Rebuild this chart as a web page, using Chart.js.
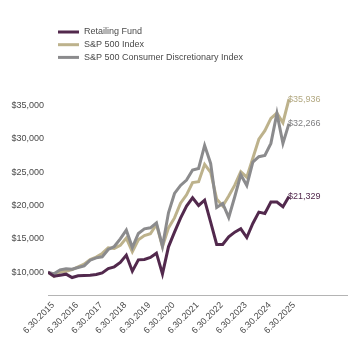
<!DOCTYPE html>
<html>
<head>
<meta charset="utf-8">
<script src="https://cdn.jsdelivr.net/npm/chart.js@4.4.0/dist/chart.umd.min.js"></script>
<style>
    html, body { margin: 0; padding: 0; background: #fff; }
</style>
</head>
<body>
<canvas id="growth" width="348" height="340"></canvas>
<script>
const growthCanvas = document.getElementById('growth');
const fontFamily = "'Liberation Sans', Arial, sans-serif";
const fontSize = 9;

// tick labels, one per year (every 4th quarter)
const yearLabels = [
    '6.30.2015', '6.30.2016', '6.30.2017', '6.30.2018', '6.30.2019', '6.30.2020',
    '6.30.2021', '6.30.2022', '6.30.2023', '6.30.2024', '6.30.2025'
];
const yTicks = [10000, 15000, 20000, 25000, 30000, 35000];

const seriesNames = ['Retailing Fund', 'S&P 500 Index', 'S&P 500 Consumer Discretionary Index'];
const seriesColors = ['#52294d', '#bdb28c', '#8b8b8d'];
const endLabelColors = ['#52294d', '#b3a982', '#7f7f81'];

// quarterly values, 6/30/2015 .. 6/30/2025
const retailingFund = [
    10000, 9400, 9550, 9700, 9200, 9450, 9500, 9550, 9650, 9900,
    10550, 10800, 11450, 12550, 10150, 11850, 11900, 12200, 12850, 9750,
    13800, 16000, 18100, 19900, 21150, 20000, 20800, 17500, 14150, 14150,
    15300, 16000, 16500, 15200, 17300, 19000, 18800, 20500, 20500, 19800,
    21329
];
const sp500 = [
    10000, 9360, 10020, 10150, 10400, 10800, 11210, 11890, 12260, 12810,
    13660, 13560, 14020, 15100, 13060, 14850, 15480, 15750, 17170, 13810,
    16640, 18130, 20330, 21590, 23440, 23570, 26170, 24970, 20950, 19930,
    21430, 23040, 25050, 24230, 27070, 29920, 31210, 33040, 33840, 32400,
    35936
];
const consumerDisc = [
    10000, 9750, 10350, 10500, 10450, 10700, 10950, 11800, 12150, 12300,
    13400, 13850, 15000, 16300, 13700, 15800, 16500, 16650, 17400, 13900,
    18900, 21800, 23000, 23800, 25300, 25550, 29000, 26300, 19700, 20300,
    18200, 21300, 24600, 23000, 26500, 27300, 27500, 29300, 33800, 29300,
    32266
];

const toPoints = (values) => values.map((v, i) => ({ x: i, y: v }));
const money = (v) => '$' + v.toLocaleString('en-US');

// legend block at the top and value labels at the line ends
const legendAndEnds = {
    id: 'legendAndEnds',
    afterDatasetsDraw(chart) {
        const ctx = chart.ctx;
        ctx.save();
        ctx.font = `${fontSize}px ${fontFamily}`;
        ctx.textBaseline = 'middle';
        ctx.textAlign = 'left';
        chart.data.datasets.forEach((ds, i) => {
            const y = 32 + i * 12.7;
            ctx.strokeStyle = ds.borderColor;
            ctx.lineWidth = 3;
            ctx.beginPath();
            ctx.moveTo(58, y);
            ctx.lineTo(79, y);
            ctx.stroke();
            ctx.fillStyle = '#4a4a4a';
            ctx.fillText(ds.label, 84, y);

            const meta = chart.getDatasetMeta(i);
            const last = meta.data[meta.data.length - 1];
            ctx.fillStyle = endLabelColors[i];
            ctx.fillText(money(ds.data[ds.data.length - 1].y), last.x - 1, last.y);
        });
        ctx.restore();
    }
};

new Chart(growthCanvas, {
    type: 'line',
    data: {
        datasets: [{
            label: seriesNames[0],
            data: toPoints(retailingFund),
            borderColor: seriesColors[0],
            order: 0
        }, {
            label: seriesNames[1],
            data: toPoints(sp500),
            borderColor: seriesColors[1],
            order: 2
        }, {
            label: seriesNames[2],
            data: toPoints(consumerDisc),
            borderColor: seriesColors[2],
            order: 1
        }]
    },
    options: {
        responsive: false,
        devicePixelRatio: 1,
        animation: false,
        layout: { padding: { top: 72, right: 0, bottom: 0, left: 0 } },
        elements: {
            point: { radius: 0 },
            line: { borderWidth: 3, tension: 0, borderJoinStyle: 'miter' }
        },
        plugins: {
            legend: { display: false },
            tooltip: { enabled: false }
        },
        scales: {
            x: {
                type: 'linear',
                min: 0,
                max: 49.8,
                grid: { display: false, drawTicks: false },
                border: { display: true, color: '#b4b4b4', width: 1 },
                afterBuildTicks: (scale) => {
                    scale.ticks = yearLabels.map((_, k) => ({ value: k * 4 }));
                },
                afterFit: (scale) => { scale.height = 45; },
                ticks: {
                    autoSkip: false,
                    minRotation: 45,
                    maxRotation: 45,
                    padding: 5,
                    labelOffset: 5,
                    color: '#4a4a4a',
                    font: { family: fontFamily, size: fontSize },
                    callback: (value) => yearLabels[value / 4]
                }
            },
            y: {
                min: 6580,
                max: 40000,
                grid: { display: false, drawTicks: false },
                border: { display: false },
                afterBuildTicks: (scale) => {
                    scale.ticks = yTicks.map(v => ({ value: v }));
                },
                afterFit: (scale) => { scale.width = 48; },
                ticks: {
                    padding: 4,
                    color: '#4a4a4a',
                    font: { family: fontFamily, size: fontSize },
                    callback: (value) => money(value)
                }
            }
        }
    },
    plugins: [legendAndEnds]
});
</script>
</body>
</html>
